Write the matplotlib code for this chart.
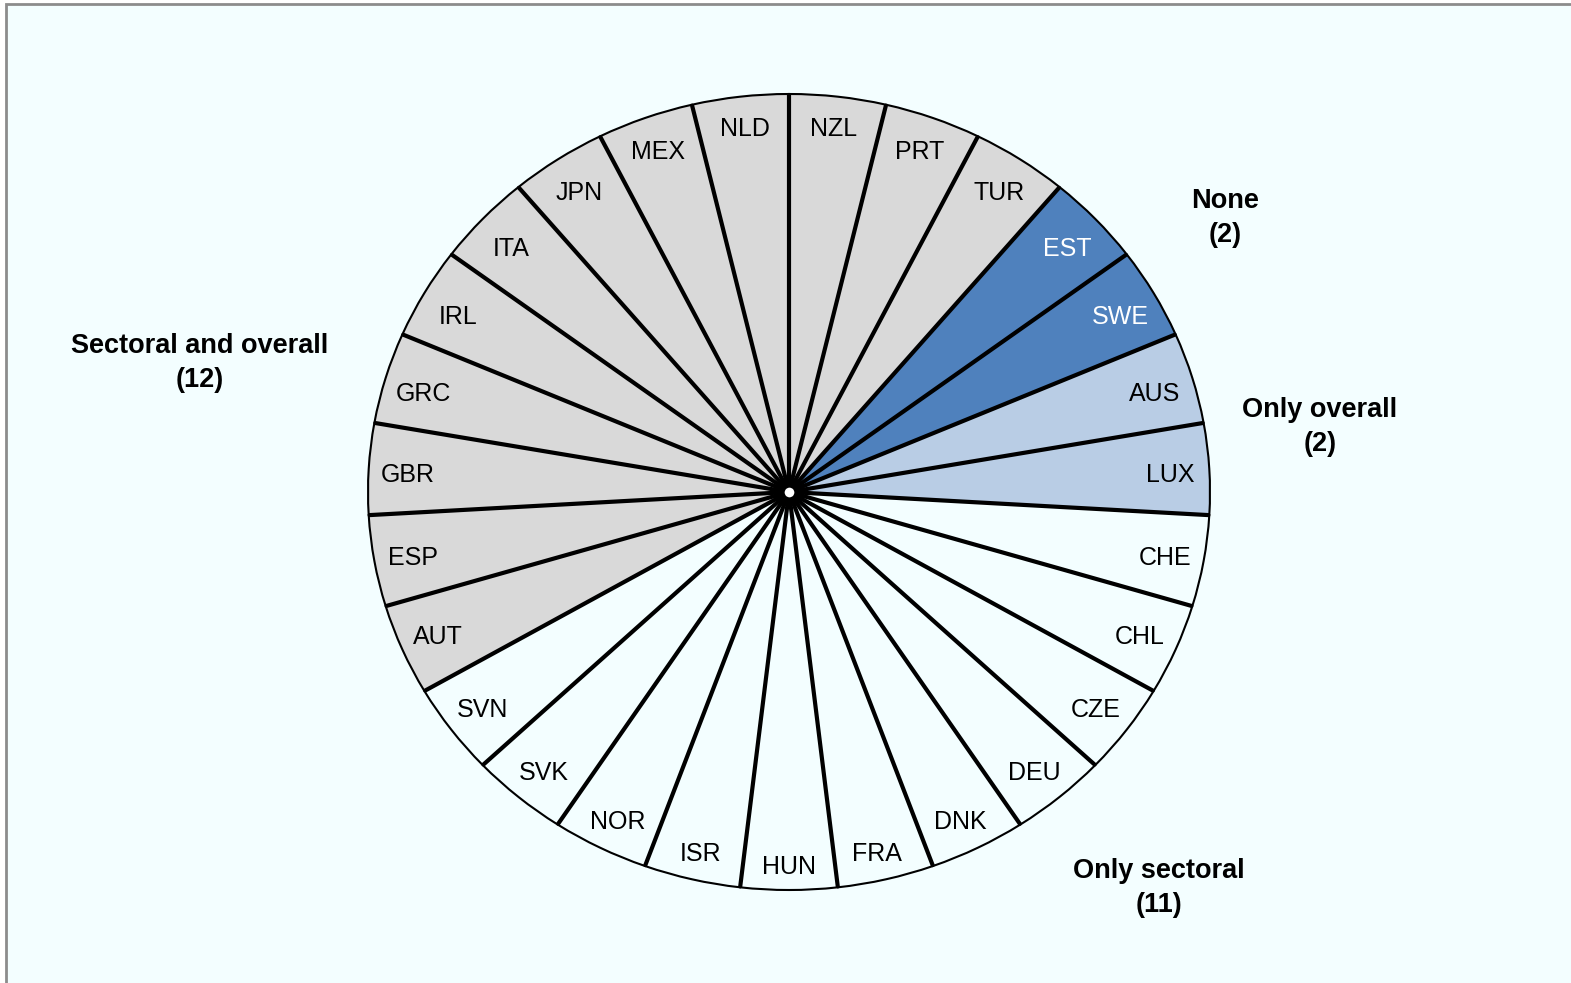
import matplotlib
matplotlib.use("Agg")
import matplotlib.pyplot as plt
from matplotlib.patches import Rectangle
import numpy as np

# countries clockwise from 12 o'clock
countries = ['NZL', 'PRT', 'TUR', 'EST', 'SWE', 'AUS', 'LUX',
             'CHE', 'CHL', 'CZE', 'DEU', 'DNK', 'FRA', 'HUN', 'ISR', 'NOR', 'SVK', 'SVN',
             'AUT', 'ESP', 'GBR', 'GRC', 'IRL', 'ITA', 'JPN', 'MEX', 'NLD']
groups = ['both', 'both', 'both', 'none', 'none', 'overall', 'overall',
          'sectoral', 'sectoral', 'sectoral', 'sectoral', 'sectoral', 'sectoral',
          'sectoral', 'sectoral', 'sectoral', 'sectoral', 'sectoral',
          'both', 'both', 'both', 'both', 'both', 'both', 'both', 'both', 'both']
shares = [1] * len(countries)

group_titles = ['Sectoral and overall', 'None', 'Only overall', 'Only sectoral']
group_keys = ['both', 'none', 'overall', 'sectoral']
group_counts = [groups.count(k) for k in group_keys]

bg = '#F3FEFF'
group_colors = {'both': '#D9D9D9', 'none': '#4F81BD', 'overall': '#B9CDE5', 'sectoral': bg}

W, H = 1571, 983
fig = plt.figure(figsize=(W / 100, H / 100), dpi=100)
fig.patch.set_facecolor('white')

# background panel with grey frame on top/left
fig.add_artist(Rectangle((6 / W, -0.02), 1.1, 1.02 - 4 / H, transform=fig.transFigure,
                         facecolor=bg, edgecolor='#8C8C8C', linewidth=2, zorder=-10))

# pie centre (789, 492) px, radii 421 x 398 px
cx, cy, rx, ry = 789, 492, 421, 398
ax = fig.add_axes([(cx - 1.25 * rx) / W, (H - cy - 1.25 * ry) / H, 2.5 * rx / W, 2.5 * ry / H])
ax.set_facecolor('none')

colors = [group_colors[g] for g in groups]
wedges, texts = ax.pie(shares, labels=countries, colors=colors, startangle=90,
                       counterclock=False, labeldistance=0.92,
                       wedgeprops=dict(edgecolor='black', linewidth=1.5),
                       textprops=dict(fontsize=18, family=['Liberation Sans', 'DejaVu Sans']))
ax.set_aspect('auto')
ax.set_xlim(-1.25, 1.25)
ax.set_ylim(-1.25, 1.25)
# "inside end" style labels: pulled in from the rim
for w, t, g in zip(wedges, texts, groups):
    mid = np.deg2rad((w.theta1 + w.theta2) / 2)
    lx = (1 - 39 / rx) * np.cos(mid)
    ly = (1 - (27 + 15 * abs(np.cos(mid))) / ry) * np.sin(mid) - 4 / ry
    t.set_position((lx, ly))
    t.set_ha('center')
    t.set_va('center')
    if g == 'none':
        t.set_color('white')

# thick spokes
cum = np.cumsum([0] + shares)
for c in cum[:-1]:
    a = np.deg2rad(90 - 360 * c / sum(shares))
    ax.plot([0, np.cos(a)], [0, np.sin(a)], color='black', lw=3, solid_capstyle='butt', zorder=5)
ax.plot([0], [0], 'o', ms=10, mfc='white', mec='black', mew=3, zorder=6)

# group annotations
label_pos = [(200, 363), (1225, 218), (1320, 427), (1159, 888)]
for title, n, (px, py) in zip(group_titles, group_counts, label_pos):
    fig.text(px / W, 1 - py / H, f'{title}\n({n})', ha='center', va='center',
             fontsize=19.5, fontweight='bold', linespacing=1.38,
             family=['Liberation Sans Narrow', 'Liberation Sans', 'DejaVu Sans'])

fig.savefig('out.png', dpi=100, facecolor=fig.get_facecolor())
